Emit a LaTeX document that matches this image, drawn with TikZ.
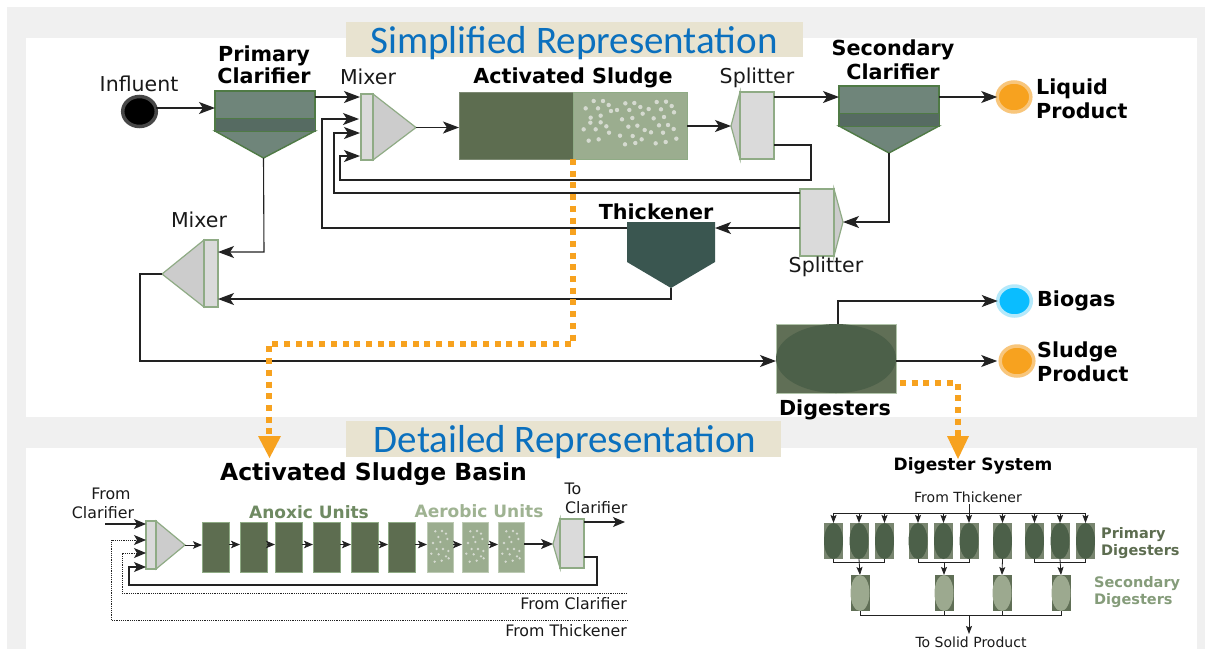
\documentclass[tikz,border=0pt]{standalone}
\usepackage{fontspec}
\setmainfont{DejaVu Sans}
\newfontfamily\titlefont{Carlito}
\usetikzlibrary{arrows.meta,calc}
\definecolor{panelgray}{HTML}{F0F0F0}
\definecolor{beige}{HTML}{E8E3D0}
\definecolor{titleblue}{HTML}{0B70BE}
\definecolor{darkunit}{HTML}{5D6D50}
\definecolor{lightunit}{HTML}{9BAD8F}
\definecolor{unitedge}{HTML}{8FAB85}
\definecolor{clarbody}{HTML}{6F857A}
\definecolor{clarband}{HTML}{566B62}
\definecolor{claredge}{HTML}{4F7A45}
\definecolor{thick}{HTML}{3A5650}
\definecolor{barfill}{HTML}{DADADA}
\definecolor{trifill}{HTML}{CCCCCC}
\definecolor{orangeline}{HTML}{F7A21F}
\definecolor{orangering}{HTML}{F8C67C}
\definecolor{bluefill}{HTML}{0ABDFF}
\definecolor{bluering}{HTML}{B4E9FB}
\definecolor{digrect}{HTML}{606F56}
\definecolor{digell}{HTML}{4C6049}
\definecolor{linecol}{HTML}{222222}
\definecolor{anoxic}{HTML}{6F8A62}
\definecolor{aerobic}{HTML}{9FB392}
\definecolor{secell}{HTML}{9CA98F}
\definecolor{dotcol}{HTML}{D5DAD0}
\tikzset{
  x=1pt,y=-1pt,
  flow/.style={draw=linecol,line width=1.1pt,-{Stealth[length=16pt,width=12pt,inset=4pt]}},
  midflow/.style={draw=linecol,line width=1.1pt,-{Stealth[length=12pt,width=10pt,inset=3pt]}},
  smallflow/.style={draw=linecol,line width=1pt,-{Stealth[length=9pt,width=7.5pt,inset=2pt]}},
  thinflow/.style={draw=linecol,line width=.8pt},
  tinyflow/.style={draw=linecol,line width=.8pt,-{Stealth[length=8pt,width=6pt,inset=1.5pt]}},
  dotflow/.style={draw=linecol,line width=1pt,dash pattern=on 1.2pt off 1pt,-{Stealth[length=12pt,width=10pt,inset=3pt]}},
  callout/.style={draw=orangeline,line width=5.5pt,dash pattern=on 6pt off 5.7pt},
  callhead/.style={fill=orangeline,draw=none},
  lab/.style={font=\fontsize{20.5}{24}\selectfont,inner sep=0,text=black!90,anchor=base},
  bold/.style={font=\fontsize{20.7}{24}\selectfont\bfseries,inner sep=0,text=black,anchor=base},
  boldw/.style={bold,anchor=base west},
  small/.style={font=\fontsize{15.8}{20}\selectfont,inner sep=0,text=black!90,anchor=base},
  smalle/.style={small,anchor=base east},
  tiny/.style={font=\fontsize{14}{17}\selectfont,inner sep=0,text=black!90,anchor=base},
  digname/.style={font=\fontsize{14.5}{17}\selectfont\bfseries,inner sep=0,anchor=base west},
  titletext/.style={font=\titlefont\fontsize{39}{46}\selectfont,text=titleblue,inner sep=0,anchor=base},
  boxn/.style={inner sep=0,outer sep=0,line width=1pt,anchor=north west},
  barshape/.style={draw=unitedge,fill=barfill,line width=1.2pt},
  trishape/.style={draw=unitedge,fill=trifill,line width=1.2pt},
  dunit/.style={boxn,fill=darkunit,draw=unitedge,minimum width=27pt,minimum height=50pt},
  lunit/.style={boxn,fill=lightunit,draw=aerobic!70!white,minimum width=26pt,minimum height=50pt},
  pdig/.style={inner sep=0,outer sep=0,fill=digrect!85!white,minimum width=19pt,minimum height=36pt},
  sdig/.style={inner sep=0,outer sep=0,fill=digrect,minimum width=19pt,minimum height=36pt},
  terminal/.style={circle,inner sep=0,outer sep=0,line width=3.5pt,minimum size=30pt,xscale=1.12},
}
\begin{document}
\begin{tikzpicture}
\useasboundingbox (0,0) rectangle (1205,649);
% panels
\fill[white] (0,0) rectangle (1205,649);
\fill[panelgray] (7,7) rectangle (1205,649);
\fill[white] (26,38) rectangle (1197,417);
\fill[white] (26,448) rectangle (1197,649);
% banners
\fill[beige] (346,22) rectangle (803,57);
\fill[beige] (346,421) rectangle (781,457);
\node[titletext] (t1) at (574,53) {Simplified Representation};
\node[titletext] (t2) at (565,452) {Detailed Representation};

% --- simplified: nodes
\node[terminal,draw=black!72,fill=black] (inf) at (139.5,111.5) {};
\node[lab] at (139,91) {Influent};
% primary clarifier
\path[fill=clarbody,draw=claredge,line width=1.4pt] (215,91) rectangle (315,131);
\path[fill=clarbody,draw=claredge,line width=1.4pt] (215,131) -- (315,131) -- (263.5,158) -- cycle;
\path[fill=clarband,draw=claredge,line width=.8pt] (215,118) rectangle (315,131);
\coordinate (pcin) at (215,108);
\coordinate (pcout) at (315,97);
\coordinate (pctip) at (263.5,158);
\node[bold] at (264,61) {Primary};
\node[bold] at (264,83) {Clarifier};
% mixer 1
\path[trishape] (373,94) -- (416,127.5) -- (373,160) -- cycle;
\node[boxn,barshape,minimum width=12pt,minimum height=66pt] (m1bar) at (361,94) {};
\coordinate (m1tip) at (416,127.5);
\node[lab] at (368,84) {Mixer};
% activated sludge
\node[boxn,fill=darkunit,minimum width=114pt,minimum height=67pt,draw=darkunit!80!white] (asd) at (459,92) {};
\node[boxn,fill=lightunit,minimum width=114pt,minimum height=67pt,draw=unitedge] (asl) at (573,92) {};
\foreach \a/\b in {431/243,459/243,476/255,407/265,444/265,483/273,501/270,526/250,553/249,571/261,596/267,620/246,648/245,665/258,633/268,672/277,538/270,578/281,422/293,452/287,516/298,547/294,611/295,642/291,421/308,452/307,469/319,401/328,437/328,477/338,535/320,562/317,584/330,627/316,654/315,671/327,603/337,639/338,510/347,548/348,575/358,416/362,446/358,525/373,556/369,617/370,647/366,679/356}
  \fill[dotcol] ({450+\a/3},{20+\b/3}) circle (2.2pt);
\node[bold] at (573,83) {Activated Sludge};
% splitter 1
\path[trishape] (740,92) -- (731,126) -- (740,159) -- cycle;
\node[boxn,barshape,minimum width=34pt,minimum height=67pt] (s1) at (740,92) {};
\coordinate (s1tip) at (731,126);
\node[lab] at (757,83) {Splitter};
% secondary clarifier
\path[fill=clarbody,draw=claredge,line width=1.4pt] (839,86) rectangle (939,126);
\path[fill=clarbody,draw=claredge,line width=1.4pt] (839,126) -- (939,126) -- (889,153) -- cycle;
\path[fill=clarband,draw=claredge,line width=.8pt] (839,113) rectangle (939,126);
\coordinate (scin) at (839,97);
\coordinate (scout) at (939,97);
\coordinate (sctip) at (889,153);
\node[bold] at (893,55) {Secondary};
\node[bold] at (893,79) {Clarifier};
% liquid product
\node[terminal,fill=orangeline,draw=orangering] (liq) at (1014,97) {};
\node[boldw] at (1036,94) {Liquid};
\node[boldw] at (1036,118) {Product};
% splitter 2
\path[trishape] (834,189) -- (843,222) -- (834,256) -- cycle;
\node[boxn,barshape,minimum width=34pt,minimum height=67pt] (s2) at (800,189) {};
\coordinate (s2tip) at (843,222);
\node[lab] at (826,272) {Splitter};
% thickener
\path[fill=thick] (627,222) -- (715,222) -- (715,262) -- (671,288) -- (627,262) -- cycle;
\coordinate (thr) at (715,228);
\coordinate (thl) at (627,228);
\coordinate (thtip) at (671,288);
\node[bold] at (656,219) {Thickener};
% mixer 2
\path[trishape] (204,240) -- (162,274) -- (204,307) -- cycle;
\node[boxn,barshape,minimum width=14pt,minimum height=67pt] (m2) at (204,240) {};
\coordinate (m2tip) at (162,274);
\node[lab] at (199,227) {Mixer};
% digesters
\node[boxn,fill=digrect,draw=unitedge!70!white,minimum width=120pt,minimum height=69pt] (dg) at (776,324) {};
\fill[digell] (836,358.5) ellipse (60 and 34.5);
\node[bold] at (835,415) {Digesters};
% biogas, sludge
\node[terminal,fill=bluefill,draw=bluering] (bio) at (1014.5,301) {};
\node[boldw] at (1037,306) {Biogas};
\node[terminal,fill=orangeline,draw=orangering] (slu) at (1017,361) {};
\node[boldw] at (1037,357) {Sludge};
\node[boldw] at (1037,381) {Product};

% --- simplified: connectors
\draw[flow] (inf.east |- pcin) -- (pcin);
\draw[flow] (pcout) -- (360,97);
\draw[flow] (m1tip) -- (asd.west |- m1tip);
\draw[flow] (asl.east |- s1tip) -- (s1tip);
\draw[flow] (s1.east |- scin) -- (scin);
\draw[flow] (scout) -- (liq);
\draw[flow] (sctip) -- (889,222) -- (s2tip);
\draw[flow] (s2.west |- thr) -- (thr);
\draw[flow] (thl) -- (322,228) -- (322,119) -- (359,119);
\draw[flow] (s2.west |- 0,193) -- (334,193) -- (334,133) -- (360,133);
\draw[flow] (s1.east |- 0,145) -- (811,145) -- (811,180) -- (340,180) -- (340,156) -- (360,156);
\draw[flow] (pctip) -- (264,252) -- (m2.east |- 0,252);
\draw[flow] (thtip) -- (671,299) -- (m2.east |- 0,299);
\draw[flow] (m2tip) -- (140,274) -- (140,361) -- (dg.west |- 0,361);
\draw[flow] (838,324) -- (838,301) -- (bio);
\draw[flow] (dg.east |- slu) -- ([xshift=-3pt]slu.west);
% callouts
\draw[callout] (asd.south east) -- (573,344) -- (269,344) -- (269,436);
\fill[callhead] (258,436) -- (281,436) -- (269.5,458) -- cycle;
\draw[callout] (900,383) -- (958,383) -- (958,436);
\fill[callhead] (947,436) -- (969,436) -- (958,459) -- cycle;

% --- detailed: activated sludge basin
\node[font=\fontsize{23.5}{28}\selectfont\bfseries,inner sep=0,anchor=base] at (373.5,480) {Activated Sludge Basin};
\node[small] at (111,499) {From};
\node[small] at (103,518) {Clarifier};
\coordinate (fc) at (105,524);
\path[trishape] (156,521) -- (185,545) -- (156,569) -- cycle;
\node[boxn,barshape,minimum width=10pt,minimum height=48pt] (bm) at (146,521) {};
\coordinate (bmtip) at (185,545);
\foreach \n/\xx in {u1/202,u2/240,u3/275,u4/313,u5/351,u6/388}
  \node[dunit] (\n) at (\xx,522) {};
\foreach \n/\xx in {u7/427,u8/462,u9/498}{
  \node[lunit] (\n) at (\xx,522) {};
  \foreach \a/\b in {25/28,45/27,57/35,61/51,18/63,40/60,34/45,29/81,48/81,64/87,13/95,35/97,57/103,23/119,44/116,65/109}
    \fill[dotcol] ({\xx+\a/3},{522+\b/3}) circle (1.3pt);
}
\node[font=\fontsize{17}{20}\selectfont\bfseries,text=anoxic,inner sep=0,anchor=base] at (309,518) {Anoxic Units};
\node[font=\fontsize{17}{20}\selectfont\bfseries,text=aerobic,inner sep=0,anchor=base] at (479,517) {Aerobic Units};
\path[trishape] (560,519) -- (553,544) -- (560,568) -- cycle;
\node[boxn,barshape,minimum width=24pt,minimum height=49pt] (bs) at (560,519) {};
\coordinate (bstip) at (553,544);
\node[small] at (573,494) {To};
\node[small,anchor=base west] at (565,513) {Clarifier};
\coordinate (bout) at (625,522);
\coordinate (fcl) at (627,593);
\coordinate (fth) at (628,620);
\node[smalle] at (627,609.5) {From Clarifier};
\node[smalle] at (627,636) {From Thickener};
\draw[midflow] (fc) -- (bm.west |- fc);
\draw[dotflow] (fth) -- (111,620) -- (111,540) -- (bm.west |- 0,540);
\draw[dotflow] (fcl) -- (122,593) -- (122,553) -- (bm.west |- 0,553);
\draw[midflow] (bs.east |- 0,557) -- (597,557) -- (597,585) -- (129,585) -- (129,567) -- (bm.west |- 0,567);
\draw[smallflow] (bmtip) -- (u1.west |- bmtip);
\foreach \p/\q in {u1/u2,u2/u3,u3/u4,u4/u5,u5/u6,u6/u7,u7/u8,u8/u9}
  \draw[smallflow] (\p.east |- 0,544.5) -- (\q.west |- 0,544.5);
\draw[midflow] (u9.east |- bstip) -- (bstip);
\draw[midflow] (bs.east |- bout) -- (bout);

% --- detailed: digester system
\node[font=\fontsize{17}{20}\selectfont\bfseries,inner sep=0,anchor=base] at (973,470) {Digester System};
\node[tiny] (ft) at (968,502) {From Thickener};
\foreach \n/\xx in {p1/833.5,p2/859,p3/884.5,p4/918,p5/943.5,p6/969,p7/1002.5,p8/1034.5,p9/1060,p10/1085.5}{
  \node[pdig] (\n) at (\xx,541) {};
  \fill[digell] (\xx,541) ellipse (9.5 and 18);
}
\foreach \n/\xx in {d1/860,d2/944,d3/1002,d4/1061}{
  \node[sdig] (\n) at (\xx,593) {};
  \fill[secell] (\xx,593) ellipse (9.5 and 18);
}
\coordinate (tbus) at (969,513);
\draw[thinflow] (p1.north |- tbus) -- (p10.north |- tbus);
\draw[thinflow] (969,504) -- (tbus);
\foreach \n in {p1,p2,p3,p4,p5,p6,p7,p8,p9,p10}
  \draw[tinyflow] (\n.north |- tbus) -- (\n.north);
\draw[thinflow] (p1.south) -- (p1.south |- 0,562) -- (p3.south |- 0,562) -- (p3.south);
\draw[thinflow] (p4.south) -- (p4.south |- 0,562) -- (p6.south |- 0,562) -- (p6.south);
\draw[thinflow] (p8.south) -- (p8.south |- 0,562) -- (p10.south |- 0,562) -- (p10.south);
\draw[tinyflow] (p2.south) -- (d1.north);
\draw[tinyflow] (d2.north |- 0,562) -- (d2.north);
\draw[tinyflow] (p7.south) -- (d3.north);
\draw[tinyflow] (p9.south) -- (d4.north);
\coordinate (bbus) at (969,615);
\draw[thinflow] (d1.south) -- (d1.south |- bbus) -- (d4.south |- bbus) -- (d4.south);
\draw[thinflow] (d2.south) -- (d2.south |- bbus);
\draw[thinflow] (d3.south) -- (d3.south |- bbus);
\node[tiny] (ts) at (971,647) {To Solid Product};
\draw[tinyflow] (bbus) -- (969,634);
\node[digname,text=darkunit] at (1101,538) {Primary};
\node[digname,text=darkunit] at (1101,555) {Digesters};
\node[digname,text=anoxic!85!white] at (1094,587) {Secondary};
\node[digname,text=anoxic!85!white] at (1094,604) {Digesters};
\end{tikzpicture}
\end{document}
